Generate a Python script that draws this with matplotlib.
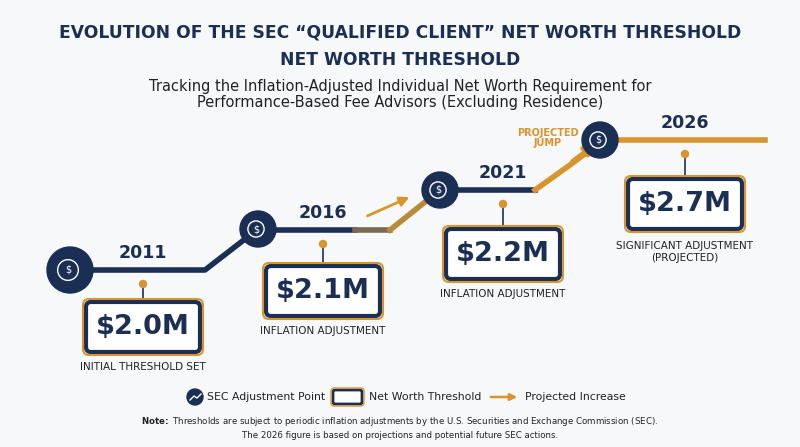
import matplotlib.pyplot as plt
from matplotlib.patches import Circle, FancyBboxPatch

plt.rcParams["mathtext.fontset"] = "dejavusans"

navy = "#1b2f55"
gold = "#d9952b"

years = ["2011", "2016", "2021", "2026"]
values = ["$2.0M", "$2.1M", "$2.2M", "$2.7M"]
captions = ["INITIAL THRESHOLD SET", "INFLATION ADJUSTMENT", "INFLATION ADJUSTMENT",
            "SIGNIFICANT ADJUSTMENT\n(PROJECTED)"]

# layout (pixel coords)
node_xy = [(70, 270), (258, 229), (440, 190), (600, 140)]
node_r = [23, 18, 18, 18]
label_x = [143, 323, 503, 685]
line_y = [270, 230, 190, 140]
box_cy = [327, 291, 254, 204]

fig = plt.figure(figsize=(8, 4.47), dpi=100)
ax = fig.add_axes([0, 0, 1, 1])
ax.set_xlim(0, 800)
ax.set_ylim(447, 0)
ax.axis("off")
fig.patch.set_facecolor("#f7f8fa")

ax.text(400, 33, "EVOLUTION OF THE SEC “QUALIFIED CLIENT” NET WORTH THRESHOLD",
        ha="center", va="center", fontsize=12.3, weight="bold", color=navy)
ax.text(400, 60, "NET WORTH THRESHOLD", ha="center", va="center",
        fontsize=12.3, weight="bold", color=navy)
ax.text(400, 87, "Tracking the Inflation-Adjusted Individual Net Worth Requirement for",
        ha="center", va="center", fontsize=10.5, color="#222")
ax.text(400, 103, "Performance-Based Fee Advisors (Excluding Residence)",
        ha="center", va="center", fontsize=10.5, color="#222")

# path segments
lw = 4
ax.plot([70, 205, 258], [270, 270, 229], color=navy, lw=lw, solid_capstyle="butt", zorder=2)
ax.plot([258, 355], [230, 230], color=navy, lw=lw, zorder=2)
ax.plot([355, 390], [230, 230], color="#7a6a4f", lw=lw, zorder=2)
ax.plot([390, 440], [230, 190], color="#b88a3c", lw=lw, zorder=2)
ax.plot([440, 535], [190, 190], color=navy, lw=lw, zorder=2)
ax.plot([535, 570, 590], [190, 165, 150], color=gold, lw=lw, zorder=2)
ax.plot([600, 765], [140, 140], color=gold, lw=lw, zorder=2)
ax.annotate("", xy=(412, 196), xytext=(365, 217),
            arrowprops=dict(arrowstyle="-|>", color=gold, lw=2, mutation_scale=14))
ax.annotate("", xy=(598, 142), xytext=(570, 163),
            arrowprops=dict(arrowstyle="-|>", color=gold, lw=3, mutation_scale=16))
ax.text(548, 138, "PROJECTED\nJUMP", ha="center", va="center", fontsize=7,
        weight="bold", color=gold, linespacing=1.1)

for i in range(len(years)):
    x, y = node_xy[i]
    ax.add_patch(Circle((x, y), node_r[i], color=navy, zorder=4))
    ax.add_patch(Circle((x - 2, y), node_r[i] * 0.45, fill=False, ec="white", lw=1, zorder=5))
    ax.text(x - 2, y, "$", ha="center", va="center", fontsize=7, color="white", zorder=6)
    lx = label_x[i]
    ax.text(lx, line_y[i] - 17, years[i], ha="center", va="center",
            fontsize=12.5, weight="bold", color=navy)
    ax.plot([lx, lx], [line_y[i] + 14, box_cy[i] - 26], color=navy, lw=1.2, zorder=3)
    ax.add_patch(Circle((lx, line_y[i] + 14), 3.5, color=gold, zorder=4))
    ax.add_patch(FancyBboxPatch((lx - 55, box_cy[i] - 23), 110, 46,
                                boxstyle="round,pad=2,rounding_size=5",
                                fc="white", ec=navy, lw=3, zorder=4))
    ax.add_patch(FancyBboxPatch((lx - 58, box_cy[i] - 26), 116, 52,
                                boxstyle="round,pad=2,rounding_size=6",
                                fc="none", ec=gold, lw=1.5, zorder=4))
    ax.text(lx, box_cy[i], values[i], ha="center", va="center", fontsize=19.5,
            weight="bold", color=navy, zorder=5)
    ax.text(lx, box_cy[i] + 40 + (8 if "\n" in captions[i] else 0), captions[i],
            ha="center", va="center", fontsize=7.5, color="#222", linespacing=1.3)

# legend
ly = 397
ax.add_patch(Circle((195, ly), 8, color=navy))
ax.plot([190, 194, 197, 201], [ly + 3, ly - 1, ly + 1, ly - 3], color="white", lw=1)
ax.text(207, ly, "SEC Adjustment Point", va="center", fontsize=7.8, color="#222")
ax.add_patch(FancyBboxPatch((334, ly - 6), 27, 12, boxstyle="round,pad=1,rounding_size=2",
                            fc="white", ec=navy, lw=2))
ax.add_patch(FancyBboxPatch((332, ly - 8), 31, 16, boxstyle="round,pad=1,rounding_size=3",
                            fc="none", ec=gold, lw=1))
ax.text(369, ly, "Net Worth Threshold", va="center", fontsize=7.8, color="#222")
ax.annotate("", xy=(520, ly), xytext=(488, ly),
            arrowprops=dict(arrowstyle="-|>", color=gold, lw=1.8))
ax.text(525, ly, "Projected Increase", va="center", fontsize=7.8, color="#222")

ax.text(400, 422, r"$\bf{Note\!:}$ Thresholds are subject to periodic inflation adjustments by the U.S. Securities and Exchange Commission (SEC).",
        ha="center", va="center", fontsize=6.2, color="#222")
ax.text(400, 436, "The 2026 figure is based on projections and potential future SEC actions.",
        ha="center", va="center", fontsize=6.2, color="#222")

fig.savefig("out.png", dpi=100, facecolor=fig.get_facecolor())
